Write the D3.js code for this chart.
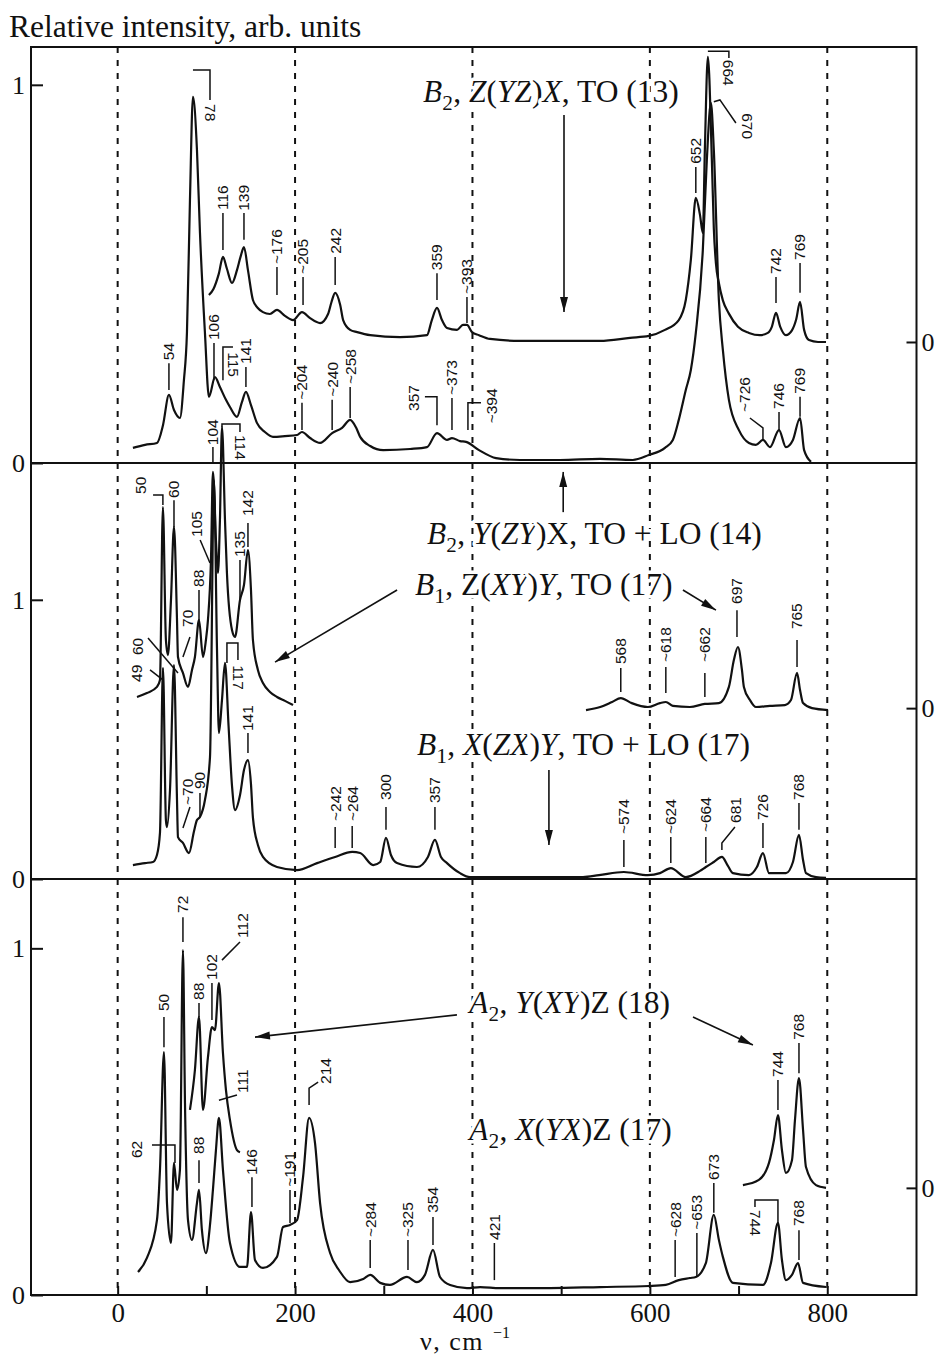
<!DOCTYPE html>
<html><head><meta charset="utf-8">
<script src="https://cdn.jsdelivr.net/npm/d3@7"></script>
<style>body{margin:0;background:#fff}svg{display:block}</style>
</head><body>
<svg id="c" width="936" height="1358"></svg>
<script>
// ---------- DATA ----------
const xMajorTicks = [0, 200, 400, 600, 800];
const xAllTicks = [0, 100, 200, 300, 400, 500, 600, 700, 800];
const panelMax = [1.1, 1.49, 1.2];
const leftTicks = [0, 1];
const rightZero = [0.32, 0.612, 0.309];

// Panel 1 (top): B2 spectra
const b2_ZYZX = [[102.9,0.444],[108,0.46],[114,0.50],[118.7,0.545],[123,0.515],[128.9,0.476],[134.5,0.510],[138.5,0.545],[142.4,0.571],[146.9,0.510],[152.5,0.431],[158,0.41],[163.8,0.399],[171.7,0.394],[179.6,0.405],[188.6,0.389],[197.7,0.378],[207.8,0.399],[216.9,0.383],[228.2,0.370],[237.2,0.394],[241,0.425],[245.2,0.450],[250.9,0.418],[254.2,0.378],[262.1,0.352],[270,0.346],[284.7,0.338],[318.3,0.333],[348.7,0.338],[354.2,0.378],[360,0.410],[365.6,0.378],[371.3,0.357],[382.6,0.352],[389.3,0.365],[393.8,0.365],[399.5,0.346],[407.4,0.338],[419.8,0.328],[453.6,0.323],[498.7,0.323],[543.8,0.323],[577.7,0.331],[598.8,0.336],[617,0.352],[632.6,0.378],[640.5,0.431],[646.2,0.537],[651.8,0.701],[656.5,0.656],[659.7,0.608],[662,0.828],[665.4,1.074],[669.9,0.80],[672.1,0.62],[674.4,0.53],[677.8,0.476],[682.3,0.43],[689.1,0.395],[699.3,0.36],[711.7,0.344],[724,0.338],[733,0.344],[737.5,0.36],[742.2,0.397],[747,0.36],[753.4,0.338],[760,0.35],[765,0.38],[769.3,0.426],[773.9,0.352],[779.4,0.325],[789.6,0.32],[798.6,0.32]];
const b2_YZYX = [[17.2,0.040],[30.9,0.048],[44.3,0.053],[51.1,0.100],[57.8,0.180],[63.5,0.140],[70.2,0.119],[74.7,0.219],[78.1,0.344],[81.5,0.695],[84.9,0.968],[89.4,0.828],[92.8,0.608],[98.4,0.344],[102.9,0.175],[109.7,0.227],[115.3,0.201],[122.1,0.167],[126.6,0.148],[134.5,0.122],[140,0.16],[144.6,0.188],[150.3,0.153],[157,0.106],[166,0.082],[175.1,0.069],[188.6,0.071],[202.2,0.074],[207.8,0.082],[216.9,0.066],[228.2,0.053],[241.8,0.079],[253,0.093],[262.1,0.114],[268.9,0.093],[273.4,0.069],[284.7,0.045],[299.4,0.034],[329.7,0.037],[348.7,0.042],[360,0.079],[371.3,0.061],[376.9,0.066],[386,0.058],[392.7,0.056],[407.4,0.034],[426.6,0.013],[453.6,0.008],[498.7,0.008],[543.8,0.011],[580.8,0.008],[598.8,0.021],[617,0.040],[625.9,0.061],[632.6,0.114],[640.5,0.193],[646.2,0.246],[651.8,0.344],[659.7,0.563],[664.2,0.80],[668.8,0.952],[672.1,0.828],[677.8,0.431],[682.3,0.299],[689.1,0.167],[700.4,0.087],[711.7,0.053],[719.5,0.048],[727.5,0.061],[735.4,0.042],[745.6,0.087],[753.4,0.042],[761.3,0.061],[769.3,0.119],[773.9,0.034],[781.7,0.003]];

// Panel 2 (middle): B1 spectra
const b1_ZXYY_low = [[21.8,0.652],[33,0.666],[44.3,0.688],[47.7,0.713],[51,1.332],[54.4,0.856],[56.7,0.802],[60.1,0.999],[63.5,1.261],[66.9,0.928],[68,0.795],[73.6,0.738],[79.3,0.688],[83.8,0.749],[87.1,0.795],[91.7,0.928],[96.2,0.795],[99.5,0.856],[101.8,0.928],[105.2,1.143],[107.4,1.458],[110.8,1.214],[113.1,1.096],[115.3,1.286],[117.6,1.619],[121,1.286],[123.2,1.096],[128.9,0.892],[132.3,0.867],[137.9,0.999],[142.4,1.053],[146.9,1.178],[150.3,1.035],[152.5,0.856],[158.1,0.749],[163.8,0.702],[171.7,0.670],[179.6,0.652],[188.6,0.638],[197.7,0.623]];
const b1_ZXYY_high = [[528,0.605],[544,0.616],[557.4,0.634],[567.2,0.648],[579.6,0.630],[597.7,0.616],[611.4,0.630],[618,0.634],[625.9,0.620],[645.1,0.616],[662,0.627],[677.8,0.630],[689.1,0.688],[694.7,0.784],[699.3,0.831],[703.8,0.749],[706,0.688],[712.8,0.641],[719.5,0.616],[735.3,0.620],[752.2,0.623],[759.1,0.641],[765.9,0.738],[769.3,0.677],[772.7,0.630],[782.8,0.612],[800.9,0.605]];
const b1_XZXY = [[17.2,0.050],[30.9,0.057],[39.8,0.061],[44.3,0.086],[47.7,0.165],[51.1,0.756],[54.4,0.211],[55.6,0.186],[59,0.319],[63.5,0.766],[66.9,0.283],[68,0.150],[73.6,0.129],[80.4,0.093],[86,0.17],[89.4,0.211],[92.8,0.222],[98.4,0.283],[104.1,0.437],[108.6,1.429],[112,0.82],[114.2,0.523],[117.6,0.641],[121,0.774],[125,0.55],[129,0.33],[132.3,0.247],[137.9,0.30],[142.4,0.39],[146.9,0.426],[150.3,0.34],[152.5,0.22],[158.1,0.122],[163.8,0.079],[179.6,0.043],[202.2,0.032],[224.8,0.057],[245.2,0.079],[264.4,0.097],[273.4,0.093],[288.1,0.050],[296,0.061],[302.5,0.147],[308.1,0.086],[314.9,0.057],[337.4,0.043],[349.8,0.079],[357.7,0.140],[364.5,0.079],[371.3,0.057],[386,0.021],[397.2,0.007],[431,0.007],[524.7,0.007],[542.7,0.014],[570.7,0.025],[597.7,0.014],[611.4,0.021],[623.6,0.039],[640.5,0.007],[656.5,0.029],[663.1,0.043],[672.1,0.061],[681.2,0.079],[688,0.047],[693.6,0.021],[711.7,0.014],[720.7,0.043],[727.5,0.093],[734.3,0.021],[753.4,0.021],[761.3,0.061],[768.1,0.158],[772.7,0.068],[776,0.021],[787.3,0.007],[798.6,0.004]];

// Panel 3 (bottom): A2 spectra
const a2_YXYZ_low = [[81.5,0.534],[87.1,0.649],[91.7,0.802],[96.2,0.534],[101.8,0.686],[106.3,0.773],[109.7,0.764],[114.2,0.900],[118.7,0.698],[122.1,0.591],[126.6,0.505],[134.5,0.418],[137.9,0.412]];
const a2_YXYZ_high = [[704.9,0.317],[722.9,0.332],[734.3,0.381],[739.9,0.447],[744.4,0.519],[748.9,0.418],[753.4,0.352],[760.2,0.389],[763.6,0.505],[768.1,0.626],[772.7,0.476],[776,0.369],[787.3,0.317],[798.6,0.309]];
const a2_XYXZ = [[22.9,0.066],[33,0.107],[44.3,0.216],[47.7,0.361],[52.2,0.701],[55.6,0.265],[60.1,0.150],[63.5,0.381],[66.9,0.303],[70.2,0.361],[73.6,0.995],[75.9,0.554],[79.3,0.216],[83.8,0.159],[89.4,0.265],[91.7,0.303],[95,0.187],[99.5,0.121],[104.1,0.202],[107.4,0.303],[110.8,0.418],[114.2,0.511],[118.7,0.361],[126.6,0.150],[137.9,0.081],[145.8,0.081],[150.3,0.239],[154.8,0.101],[163.8,0.078],[179.6,0.110],[186.4,0.196],[194.3,0.202],[202.2,0.216],[209,0.340],[215.8,0.511],[222.5,0.438],[228.2,0.265],[239.5,0.121],[250,0.07],[262.1,0.037],[276.8,0.046],[284.7,0.058],[296,0.035],[307,0.029],[326.2,0.052],[337.4,0.037],[346.4,0.058],[355.5,0.130],[363.4,0.052],[374.8,0.029],[393.8,0.020],[408.6,0.023],[431,0.020],[487.4,0.020],[543.8,0.023],[598.8,0.026],[618,0.029],[632.6,0.043],[645.1,0.049],[651.8,0.052],[663.1,0.092],[672.1,0.231],[677.8,0.159],[682.3,0.110],[693.6,0.035],[727.5,0.029],[736.5,0.092],[744.4,0.208],[748.9,0.101],[753.4,0.043],[760.2,0.058],[767,0.092],[772.7,0.035],[798.6,0.023]];

const spectra = [
  {panel:0, data:b2_ZYZX}, {panel:0, data:b2_YZYX},
  {panel:1, data:b1_ZXYY_low}, {panel:1, data:b1_ZXYY_high}, {panel:1, data:b1_XZXY},
  {panel:2, data:a2_YXYZ_low}, {panel:2, data:a2_YXYZ_high}, {panel:2, data:a2_XYXZ}
];

// peak annotations (wavenumber / intensity units)
const T = (t, v, y0, y1, ty) => ({t, p:[[v,y0],[v,y1]], at:[v,ty], r:-90, a:"start"});
const peaksTop = [
  T("54",57.8,0.193,0.264,0.272),
  {t:"78", p:[[84.9,1.039],[104.1,1.039],[104.1,0.960]], at:[104.1,0.949], r:90, a:"start"},
  T("106",108.6,0.219,0.317,0.325),
  {t:"115", p:[[118.7,0.219],[118.7,0.307],[130,0.307]], at:[130,0.293], r:90, a:"start"},
  T("141",144.6,0.201,0.254,0.262),
  T("~204",207.8,0.087,0.159,0.167),
  T("~240",241.8,0.087,0.167,0.175),
  T("~258",262.1,0.119,0.201,0.209),
  {t:"357", p:[[360,0.100],[360,0.175],[346.4,0.175]], at:[334,0.172], r:-90, a:"middle"},
  T("~373",376.9,0.087,0.172,0.180),
  {t:"~394", p:[[394.9,0.087],[394.9,0.159],[409.6,0.159]], at:[422,0.151], r:-90, a:"middle"},
  {t:"~726", p:[[727.5,0.061],[727.5,0.093],[712.8,0.119]], at:[707.2,0.135], r:-90, a:"start"},
  T("746",745.6,0.087,0.135,0.143),
  T("769",769.3,0.122,0.175,0.183),
  T("116",118.7,0.563,0.661,0.669),
  T("139",142.4,0.590,0.661,0.667),
  T("~176",179.6,0.444,0.518,0.526),
  T("~205",209,0.418,0.492,0.500),
  T("242",245.2,0.471,0.545,0.553),
  T("359",360,0.431,0.502,0.510),
  T("~393",393.8,0.37,0.439,0.447),
  T("652",651.8,0.714,0.783,0.791),
  {t:"664", p:[[665.4,1.089],[689.1,1.089],[689.1,1.071]], at:[689.1,1.066], r:90, a:"start"},
  {t:"670", p:[[672.1,0.955],[679,0.960],[697,0.899]], at:[709.6,0.925], r:90, a:"start"},
  T("742",742.2,0.423,0.492,0.500),
  T("769",769.3,0.450,0.529,0.537)
];
const peaksMid = [
  {t:"50", p:[[39.9,1.375],[51,1.375],[51,1.340]], at:[26.3,1.379], r:-90, a:"start"},
  T("60",63.5,1.261,1.357,1.365),
  {t:"105", p:[[93,1.214],[104.1,1.132]], at:[89.4,1.225], r:-90, a:"start"},
  T("88",91.7,0.928,1.035,1.046),
  {t:"70", p:[[73.6,0.795],[81.5,0.867]], at:[79.3,0.903], r:-90, a:"start"},
  {t:"60", p:[[34.2,0.863],[68,0.738]], at:[21.9,0.802], r:-90, a:"start"},
  {t:"49", p:[[36.5,0.749],[51,0.713]], at:[21.8,0.706], r:-90, a:"start"},
  T("104",107.4,1.490,1.547,1.554),
  {t:"114", p:[[117.6,1.619],[117.6,1.630],[137.9,1.630],[137.9,1.601]], at:[137.9,1.590], r:90, a:"start"},
  T("142",146.9,1.189,1.275,1.30),
  T("135",137.9,0.999,1.143,1.153),
  {t:"117", p:[[123.2,0.774],[123.2,0.845],[135.6,0.845],[135.6,0.784]], at:[135.6,0.766], r:90, a:"start"},
  T("141",146.9,0.451,0.523,0.530),
  {t:"~70", p:[[73.6,0.183],[81.5,0.258]], at:[79.3,0.265], r:-90, a:"start"},
  T("90",92.8,0.222,0.308,0.322),
  T("~242",245.2,0.111,0.186,0.208),
  T("~264",264.4,0.111,0.190,0.208),
  T("300",302.5,0.176,0.258,0.283),
  T("357",357.7,0.176,0.258,0.272),
  T("~574",570.7,0.043,0.140,0.161),
  T("~624",623.6,0.057,0.150,0.161),
  T("~664",663.1,0.057,0.150,0.168),
  {t:"681", p:[[681.2,0.104],[681.2,0.129],[695.9,0.186]], at:[697,0.201], r:-90, a:"start"},
  T("726",727.5,0.111,0.201,0.211),
  T("768",768.1,0.176,0.272,0.283),
  T("568",567.2,0.670,0.756,0.770),
  T("~618",618,0.666,0.759,0.777),
  T("~662",662,0.652,0.738,0.777),
  T("697",698.2,0.867,0.963,0.985),
  T("765",765.9,0.759,0.856,0.895)
];
const peaksBot = [
  T("50",52.2,0.715,0.802,0.819),
  T("72",73.6,1.018,1.090,1.102),
  T("88",91.7,0.802,0.842,0.851),
  T("102",106.3,0.793,0.900,0.909),
  {t:"112", p:[[117.6,0.966],[137.9,1.018]], at:[141.3,1.030], r:-90, a:"start"},
  {t:"62", p:[[38.7,0.433],[64.6,0.433],[64.6,0.381]], at:[21.8,0.395], r:-90, a:"start"},
  T("88",91.7,0.323,0.389,0.407),
  {t:"111", p:[[114.2,0.562],[134.5,0.577]], at:[141.3,0.583], r:-90, a:"start"},
  T("146",151.4,0.254,0.340,0.346),
  T("~191",194.3,0.208,0.303,0.312),
  {t:"214", p:[[215.8,0.548],[215.8,0.597],[226,0.614]], at:[233.9,0.609], r:-90, a:"start"},
  T("~284",284.7,0.078,0.159,0.167),
  T("~325",327.3,0.072,0.159,0.167),
  T("354",355.5,0.144,0.225,0.237),
  T("421",424.7,0.043,0.150,0.159),
  T("~628",628.5,0.052,0.159,0.167),
  T("~653",653,0.052,0.179,0.188),
  T("673",672.1,0.237,0.323,0.332),
  {t:"744", p:[[744.4,0.208],[744.4,0.274],[718.5,0.274],[718.5,0.254]], at:[718.5,0.245], r:90, a:"start"},
  T("768",768.1,0.101,0.187,0.199),
  T("744",744.4,0.534,0.620,0.629),
  T("768",768.1,0.640,0.727,0.736)
];
const peakSets = [peaksTop, peaksMid, peaksBot];

// spectrum titles: [text, style] segments (i = italic, sub = subscript)
const titles = [
  {panel:0, at:[344.2,0.955], segs:[["B","i"],["2","sub"],[", ",""],["Z","i"],["(",""],["YZ","i"],[")",""],["X","i"],[", TO (13)",""]]},
  {panel:1, at:[348.7,1.200], segs:[["B","i"],["2","sub"],[", ",""],["Y","i"],["(",""],["ZY","i"],[")",""],["X",""],[", TO + LO (14)",""]]},
  {panel:1, at:[335.3,1.017], segs:[["B","i"],["1","sub"],[", Z(",""],["XY","i"],[")",""],["Y","i"],[", TO (17)",""]]},
  {panel:1, at:[337.4,0.444], segs:[["B","i"],["1","sub"],[", ",""],["X","i"],["(",""],["ZX","i"],[")",""],["Y","i"],[", TO + LO (17)",""]]},
  {panel:2, at:[396.3,0.813], segs:[["A","i"],["2","sub"],[", ",""],["Y","i"],["(",""],["XY","i"],[")Z (18)",""]]},
  {panel:2, at:[396.3,0.447], segs:[["A","i"],["2","sub"],[", ",""],["X","i"],["(",""],["YX","i"],[")Z (17)",""]]}
];
const arrows = [
  {panel:0, from:[503.2,0.920], to:[503.2,0.399]},
  {panel:1, from:[502.3,1.314], to:[502.3,1.458]},
  {panel:1, from:[315,1.035], to:[177.4,0.777]},
  {panel:1, from:[637.3,1.035], to:[674.5,0.963]},
  {panel:1, from:[486.2,0.390], to:[486.2,0.122]},
  {panel:2, from:[382.5,0.808], to:[154.8,0.744]},
  {panel:2, from:[648.6,0.802], to:[716.2,0.721]}
];

// ---------- LAYOUT ----------
const svg = d3.select("#c");
const L = 31, R = 916.5;
const bands = [47, 463, 879, 1295];
const x = d3.scaleLinear().domain([-97.7, 900.6]).range([L, R]);
const ys = panelMax.map((m,i) => d3.scaleLinear().domain([0, m]).range([bands[i+1], bands[i]]));
const serif = "'Liberation Serif','Times New Roman',serif";
const sans = "'Liberation Sans',Arial,sans-serif";

const defs = svg.append("defs");
defs.append("marker").attr("id","ah").attr("viewBox","-16 -5 17 10")
  .attr("refX",0).attr("refY",0).attr("markerWidth",17).attr("markerHeight",10)
  .attr("markerUnits","userSpaceOnUse").attr("orient","auto")
  .append("path").attr("d","M0,0L-15,-4L-15,4Z").attr("fill","#111");

// dashed grid lines
svg.append("g").selectAll("line").data(xMajorTicks).join("line")
  .attr("x1", d=>x(d)).attr("x2", d=>x(d)).attr("y1", bands[0]).attr("y2", bands[3])
  .attr("stroke","#111").attr("stroke-width",2).attr("stroke-dasharray","6,7");

// frame and panel separators
svg.append("rect").attr("x",L).attr("y",bands[0]).attr("width",R-L).attr("height",bands[3]-bands[0])
  .attr("fill","none").attr("stroke","#111").attr("stroke-width",2);
svg.append("g").selectAll("line").data([bands[1],bands[2]]).join("line")
  .attr("x1",L).attr("x2",R).attr("y1",d=>d).attr("y2",d=>d)
  .attr("stroke","#111").attr("stroke-width",2);

function styleAxis(g, size){
  g.select(".domain").remove();
  g.selectAll("line").attr("stroke","#111").attr("stroke-width",2);
  g.selectAll("text").attr("font-family",serif).attr("font-size",size).attr("fill","#111");
}
// bottom axis
const gb = svg.append("g").attr("transform",`translate(0,${bands[3]})`)
  .call(d3.axisBottom(x).tickValues(xAllTicks).tickSizeInner(-9).tickSizeOuter(0).tickPadding(8)
    .tickFormat(d => xMajorTicks.includes(d) ? d : ""));
styleAxis(gb, 27);
// left / right axes per panel
ys.forEach((y,i) => {
  const gl = svg.append("g").attr("transform",`translate(${L},0)`)
    .call(d3.axisLeft(y).tickValues(leftTicks).tickSizeInner(-12).tickSizeOuter(0).tickPadding(6).tickFormat(d3.format("d")));
  styleAxis(gl, 26);
  const gr = svg.append("g").attr("transform",`translate(${R},0)`)
    .call(d3.axisRight(y).tickValues([rightZero[i]]).tickSizeInner(-10).tickSizeOuter(0).tickPadding(5).tickFormat(()=>"0"));
  styleAxis(gr, 26);
});

// axis titles
svg.append("text").attr("x",9).attr("y",37).attr("font-family",serif).attr("font-size",31.5).attr("fill","#111")
  .text("Relative intensity, arb. units");
const xl = svg.append("text").attr("x",420).attr("y",1350)
  .attr("font-family",serif).attr("font-size",26).attr("fill","#111");
xl.append("tspan").attr("letter-spacing",1.5).text("ν, cm");
xl.append("tspan").attr("dx",9).attr("dy",-12).attr("font-size",16).text("−1");

// spectra
spectra.forEach(s => {
  const line = d3.line().x(d=>x(d[0])).y(d=>ys[s.panel](d[1])).curve(d3.curveMonotoneX);
  svg.append("path").datum(s.data).attr("d",line).attr("fill","none")
    .attr("stroke","#111").attr("stroke-width",2.2).attr("stroke-linejoin","round");
});

// peak labels
peakSets.forEach((set,i) => {
  const y = ys[i];
  const g = svg.append("g");
  set.forEach(a => {
    g.append("path").attr("d", d3.line().x(d=>x(d[0])).y(d=>y(d[1]))(a.p))
      .attr("fill","none").attr("stroke","#111").attr("stroke-width",1.5);
    g.append("text").attr("transform",`translate(${x(a.at[0])},${y(a.at[1])}) rotate(${a.r})`)
      .attr("text-anchor",a.a).attr("dy","0.35em")
      .attr("font-family",sans).attr("font-size",15.5).attr("fill","#111").text(a.t);
  });
});

// titles (white halo so dashed grid lines stop at the text, as in the reference)
titles.forEach(t => {
  const tx = svg.append("text").attr("x",x(t.at[0])).attr("y",ys[t.panel](t.at[1]))
    .attr("font-family",serif).attr("font-size",31.5).attr("fill","#111")
    .attr("stroke","#fff").attr("stroke-width",7).attr("paint-order","stroke").attr("stroke-linejoin","round");
  let shift = 0;
  t.segs.forEach(([s,st]) => {
    const sp = tx.append("tspan").text(s);
    if (st === "i") sp.attr("font-style","italic");
    if (st === "sub") { sp.attr("font-size",22).attr("dy",8); shift = 8; }
    else if (shift) { sp.attr("dy",-shift); shift = 0; }
  });
});

// arrows
arrows.forEach(a => {
  const y = ys[a.panel];
  svg.append("line").attr("x1",x(a.from[0])).attr("y1",y(a.from[1]))
    .attr("x2",x(a.to[0])).attr("y2",y(a.to[1]))
    .attr("stroke","#111").attr("stroke-width",1.6).attr("marker-end","url(#ah)");
});
</script>
</body></html>
